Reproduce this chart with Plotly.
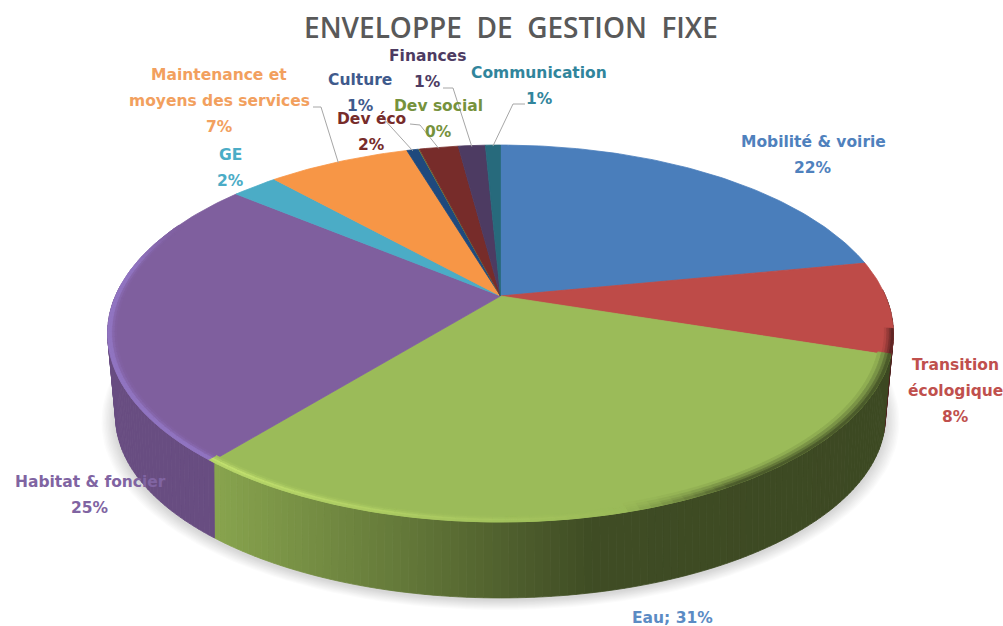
import numpy as np
import plotly.graph_objects as go

# ---- data ----
names = ["Mobilité & voirie", "Transition écologique", "Eau", "Habitat & foncier", "GE",
         "Maintenance et moyens des services", "Culture", "Dev social", "Dev éco", "Finances", "Communication"]
values = [22, 8, 31, 25, 2.3, 7.1, 0.6, 0.03, 1.95, 1.35, 0.75]
title_text = "ENVELOPPE  DE  GESTION  FIXE"

# ---- styles ----
slice_colors = ["#4A7EBB", "#BE4B48", "#9BBB59", "#7F5F9E", "#4BACC6", "#F79646",
                "#1F497D", "#76923C", "#772C2A", "#4D3B62", "#276A7C"]
label_colors = ["#4F81BD", "#C0504D", "#5B8BC4", "#8064A2", "#4BACC6", "#F2A05E",
                "#3F5A8C", "#76923C", "#772C2A", "#4D3B62", "#31859C"]
label_lines = [["Mobilité & voirie"], ["Transition", "écologique"], None, ["Habitat & foncier"], ["GE"],
               ["Maintenance et", "moyens des services"], ["Culture"], ["Dev social"], ["Dev éco"],
               ["Finances"], ["Communication"]]
label_cx = [813, 955, 672, 90, 230, 219, 360, 438, 371, 427, 539]
label_top = [142, 365, 618, 482, 155, 75, 80, 106, 119, 56, 73]
line_gap = 26
# leader lines: label-side elbow in page pixels (far end is computed on the rim)
leaders = {5: [(313, 107), (321, 107)], 6: [(382, 117)], 8: [(410, 124), (420, 125)],
           9: [(443, 88), (453, 88)], 10: [(525, 104), (513, 104)]}

# ---- projection ----
CX, AY, RX, RY, K = 500.5, 296.0, 385.0, 181.0, 0.199
AY2, RX2, RY2, K2 = 376.0, 375.0, 172.0, 0.225


def proj(theta, r=1.0, ay=AY, rx=RX, ry=RY, k=K):
    u, v = r * np.sin(theta), r * np.cos(theta)
    w = 1 + k * v
    return CX + rx * u / w, ay - ry * v / w


def rgb(h):
    return np.array([int(h[i:i + 2], 16) for i in (1, 3, 5)], float)


def css(c):
    return "rgb(%d,%d,%d)" % tuple(np.clip(c, 0, 255))


fig = go.Figure()


def poly(xs, ys, fill, line=True):
    fig.add_trace(go.Scatter(x=list(xs) + [xs[0]], y=list(ys) + [ys[0]], mode="lines", fill="toself",
                             fillcolor=fill, hoverinfo="skip",
                             line=dict(color=fill if line else "rgba(0,0,0,0)", width=0.8)))


arr = np.array(values, float)
edges = np.concatenate([[0], np.cumsum(arr)]) / arr.sum() * 2 * np.pi

# soft shadow
full = np.linspace(0, 2 * np.pi, 181)
for i in range(10, 0, -1):
    x, y = proj(full, 1 + i * 0.0035, AY2 + 2, RX2, RY2, K2)
    poly(x, y, "rgba(0,0,0,0.016)", line=False)


def slice_index(t):
    return min(int(np.searchsorted(edges, t, side="right") - 1), len(values) - 1)


def side_factor(idx, x):
    if idx == 2:
        return float(np.interp(x, [215, 400, 590, 900], [0.88, 0.65, 0.41, 0.39]))
    if idx == 3:
        return 0.82
    return 0.42


# side wall
steps = np.radians(np.arange(88, 274, 1.0))
for a, b in zip(steps[:-1], steps[1:]):
    m = (a + b) / 2
    idx = slice_index(m)
    x1, y1 = proj(np.array([a, b]))
    x2, y2 = proj(np.array([b, a]), 1, AY2, RX2, RY2, K2)
    c = rgb(slice_colors[idx]) * side_factor(idx, (x1[0] + x1[1]) / 2)
    poly(np.r_[x1, x2], np.r_[y1, y2], css(c))

# top faces
for i, col in enumerate(slice_colors):
    t = np.linspace(edges[i], edges[i + 1], max(3, int((edges[i + 1] - edges[i]) * 60)))
    x, y = proj(t)
    poly(np.r_[CX, x], np.r_[AY, y], col)

# bevel along the front rim
bev = np.radians(np.arange(100, 296, 1.5))
rings_light = np.array([0.978, 0.984, 0.99, 0.995, 1.0])
rings_dark = np.array([0.968, 0.977, 0.986, 0.993, 1.0])
for a, b in zip(bev[:-1], bev[1:]):
    m = np.degrees((a + b) / 2)
    idx = slice_index(np.radians(m))
    top = rgb(slice_colors[idx])
    x_mid = proj(np.radians(m))[0]
    rings = rings_light
    if idx == 2 and m > 165:
        amt = np.interp(m, [165, 215], [0.0, 1.0])
        target, weights = np.array([196, 226, 112]), [0.15, 0.45, 0.95, 0.7]
    elif idx == 3:
        amt = np.interp(m, [222, 280, 295], [1.0, 1.0, 0.0])
        target, weights = np.array([148, 120, 198]), [0.1, 0.35, 0.85, 0.9]
    elif idx == 2:
        amt = np.interp(m, [110, 150, 165], [1.0, 1.0, 0.0])
        target, weights = top * side_factor(2, x_mid), [0.12, 0.35, 0.6, 0.85]
        rings = rings_dark
    else:
        amt, target, weights = 1.0, top * 0.42, [0.12, 0.35, 0.6, 0.85]
    for r0, r1, w_ in zip(rings[:-1], rings[1:], weights):
        x1, y1 = proj(np.array([a, b]), r0)
        x2, y2 = proj(np.array([b, a]), r1)
        poly(np.r_[x1, x2], np.r_[y1, y2], css(top + (target - top) * amt * w_))

# leader lines
for i, pts in leaders.items():
    mid = (edges[i] + edges[i + 1]) / 2
    ex, ey = proj(mid)
    fig.add_trace(go.Scatter(x=[p[0] for p in pts] + [float(ex)], y=[p[1] for p in pts] + [float(ey) + 1],
                             mode="lines", hoverinfo="skip", line=dict(color="#A6A6A6", width=1)))

# labels
FONT = "DejaVu Sans"
for i, v in enumerate(values):
    pct = f"{round(v)}%"
    lines = [f"{names[i]}; {pct}"] if label_lines[i] is None else label_lines[i] + [pct]
    for j, s in enumerate(lines):
        fig.add_annotation(x=label_cx[i], y=label_top[i] + j * line_gap, text=s, showarrow=False,
                           xanchor="center", yanchor="middle",
                           font=dict(family=FONT, size=15.5, color=label_colors[i], weight=700))

fig.add_annotation(x=511, y=27, text=title_text, showarrow=False, xanchor="center", yanchor="middle",
                   font=dict(family="Open Sans", size=28, color="#595959", weight=600))

fig.update_layout(width=1003, height=626, margin=dict(l=0, r=0, t=0, b=0), showlegend=False,
                  paper_bgcolor="white", plot_bgcolor="white",
                  xaxis=dict(range=[0, 1003], visible=False, fixedrange=True),
                  yaxis=dict(range=[626, 0], visible=False, fixedrange=True))
fig.write_html("out.html", config={"displayModeBar": False},
               post_script="document.body.style.margin='0';document.documentElement.style.overflow='hidden';")
